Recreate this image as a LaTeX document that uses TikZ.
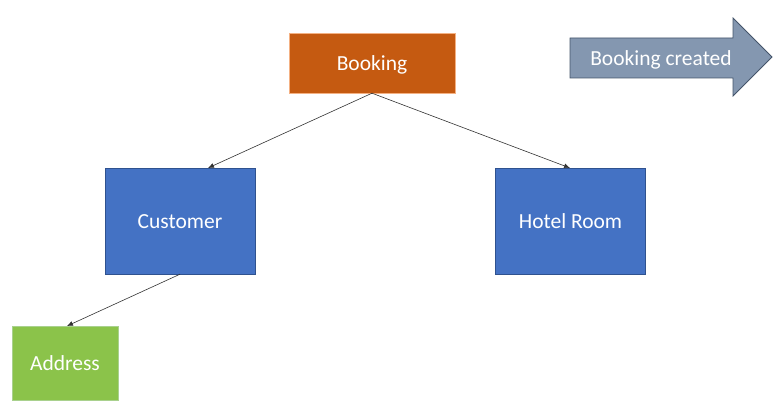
\documentclass[tikz,border=0pt]{standalone}
\usepackage{fontspec}
\setmainfont{Carlito}
\usetikzlibrary{arrows.meta}
\definecolor{bookorange}{HTML}{C55A11}
\definecolor{bookedge}{HTML}{F4B183}
\definecolor{entblue}{HTML}{4472C4}
\definecolor{entedge}{HTML}{2F528F}
\definecolor{addrgreen}{HTML}{8BC34A}
\definecolor{addredge}{HTML}{A9D18E}
\definecolor{evfill}{HTML}{8497B0}
\definecolor{evedge}{HTML}{44546A}
\begin{document}
\begin{tikzpicture}[x=1pt,y=-1pt,
	label text/.style={text=white,font=\fontsize{21.5}{24}\selectfont,text height=18pt,text depth=3.5pt},
	entity/.style={label text,draw=entedge,fill=entblue,inner sep=0pt,minimum width=150pt,minimum height=106pt},
	link/.style={draw=black!80,line width=0.6pt,-{Latex[length=6pt,width=5pt]}}]
				\useasboundingbox (0,0) rectangle (783,414);
				\node[entity,draw=bookedge,fill=bookorange,minimum width=166pt,minimum height=60pt] (booking) at (372,63) {Booking};
				\node[entity] (customer) at (180,221) {Customer};
				\node[entity] (room) at (570.5,221) {Hotel Room};
				\node[entity,draw=addredge,fill=addrgreen,minimum width=106pt,minimum height=74pt] (address) at (65,363) {Address};
				\coordinate (C1) at (208,168);
				\coordinate (C2) at (570,168);
				\coordinate (C3) at (67,326);
				\draw[link] (booking.south) -- (C1);
				\draw[link] (booking.south) -- (C2);
				\draw[link] (customer.south) -- (C3);
				% event arrow
				\coordinate (E1) at (570,38);
				\coordinate (E2) at (733,38);
				\coordinate (E3) at (733,18);
				\coordinate (E4) at (772,57);
				\coordinate (E5) at (733,96);
				\coordinate (E6) at (733,78);
				\coordinate (E7) at (570,78);
				\filldraw[fill=evfill,draw=evedge,line width=0.8pt] (E1) -- (E2) -- (E3) -- (E4) -- (E5) -- (E6) -- (E7) -- cycle;
				\node[label text] (created) at (661,58) {Booking created};
			\end{tikzpicture}
\end{document}
